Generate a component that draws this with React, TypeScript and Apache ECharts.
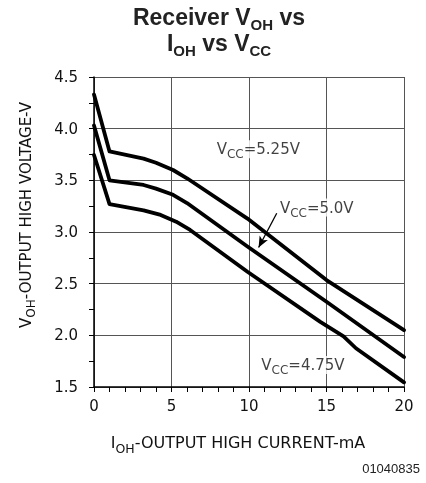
import React, { useEffect, useRef } from "react";
import * as echarts from "echarts";

// I_OH (mA) / V_OH (V)
const vcc525X = [0, 1, 3.2, 4, 5.1, 6, 9.9, 15, 20];
const vcc525Y = [4.33, 3.78, 3.71, 3.67, 3.6, 3.52, 3.13, 2.535, 2.05];

const vcc50X = [0, 1, 3.2, 4, 5.1, 6, 9.9, 15, 20];
const vcc50Y = [4.03, 3.5, 3.455, 3.42, 3.36, 3.28, 2.86, 2.325, 1.79];

const vcc475X = [0, 1, 3.2, 4.3, 5.3, 6.2, 9.9, 14.6, 16.1, 16.9, 20];
const vcc475Y = [3.745, 3.27, 3.21, 3.165, 3.1, 3.02, 2.615, 2.13, 1.99, 1.875, 1.545];

const annotX = [10.6, 14.37, 13.48];
const annotY = [3.8, 3.237, 1.713];
const annotText = ["5.25V", "5.0V", "4.75V"];

const arrowFrom = [11.79, 3.181];
const arrowTo = [10.62, 2.85];

const xTicks = [0, 5, 10, 15, 20];
const yTicks = [1.5, 2.0, 2.5, 3.0, 3.5, 4.0, 4.5];

const FONT = "'DejaVu Sans', 'Liberation Sans', sans-serif";
const TITLE_FONT = "'Liberation Sans', Arial, sans-serif";

const zip = (xs: number[], ys: number[]) => xs.map((x, i) => [x, ys[i]]);

export default function App() {
  const ref = useRef<HTMLDivElement>(null);
  useEffect(() => {
    if (!ref.current) return;
    const chart = echarts.init(ref.current, undefined, { renderer: "svg" });
    const lineSeries = (name: string, data: number[][], extra: any = {}) => ({
      type: "line",
      name,
      data,
      symbol: "none",
      lineStyle: { color: "#000", width: 3.8, join: "round", cap: "round" },
      z: 3,
      ...extra,
    });
    const subRich = {
      m: { fontFamily: FONT, fontSize: 15, color: "#111", lineHeight: 18 },
      s: { fontFamily: FONT, fontSize: 12, color: "#111", lineHeight: 12, padding: [10, 0, 0, 0] },
    };
    const nameRich = {
      m: { fontFamily: FONT, fontSize: 16, color: "#111", lineHeight: 19 },
      s: { fontFamily: FONT, fontSize: 12.5, color: "#111", lineHeight: 12, padding: [11, 0, 0, 0] },
    };
    chart.setOption({
      animation: false,
      title: {
        text: "{a|Receiver V}{s|OH}{a| vs}\n{a|I}{s|OH}{a| vs V}{s|CC}",
        left: 214,
        textAlign: "center",
        top: -1,
        textStyle: {
          rich: {
            a: { fontFamily: TITLE_FONT, fontWeight: "bold", fontSize: 23, color: "#222", lineHeight: 26 },
            s: { fontFamily: TITLE_FONT, fontWeight: "bold", fontSize: 15, color: "#222", lineHeight: 15, padding: [14, 0, 0, 0] },
          },
        },
      },
      grid: { left: 94, right: 22, top: 77, bottom: 96 },
      xAxis: {
        type: "value",
        min: xTicks[0],
        max: xTicks[xTicks.length - 1],
        interval: 5,
        axisLine: { lineStyle: { color: "#000", width: 1.5 } },
        axisTick: { show: true, length: 5, lineStyle: { color: "#000" } },
        minorTick: { show: true, splitNumber: 5, length: 5, lineStyle: { color: "#000" } },
        splitLine: { show: true, lineStyle: { color: "#555", width: 1 } },
        axisLabel: { fontFamily: FONT, fontSize: 15, color: "#111", margin: 11 },
        name: "{m|I}{s|OH}{m|-OUTPUT HIGH CURRENT-mA}",
        nameLocation: "middle",
        nameGap: 46,
        nameTextStyle: { rich: nameRich, padding: [0, 22, 0, 0] },
      },
      yAxis: {
        type: "value",
        min: yTicks[0],
        max: yTicks[yTicks.length - 1],
        interval: 0.5,
        axisLine: { show: true, lineStyle: { color: "#000", width: 1.5 } },
        axisTick: { show: true, length: 5, lineStyle: { color: "#000" } },
        minorTick: { show: true, splitNumber: 2, length: 5, lineStyle: { color: "#000" } },
        splitLine: { show: true, lineStyle: { color: "#555", width: 1 } },
        axisLabel: {
          fontFamily: FONT,
          fontSize: 15,
          color: "#111",
          margin: 16,
          formatter: (v: number) => v.toFixed(1),
        },
        name: "{m|V}{s|OH}{m|-OUTPUT HIGH VOLTAGE-V}",
        nameLocation: "middle",
        nameRotate: 90,
        nameGap: 59,
        nameTextStyle: { rich: subRich, padding: [0, 0, 0, 34] },
      },
      graphic: [
        {
          type: "text",
          right: 6,
          top: 462,
          style: { text: "01040835", font: "13px 'Liberation Sans', Arial, sans-serif", fill: "#222" },
        },
      ],
      series: [
        lineSeries("VCC=5.25V", zip(vcc525X, vcc525Y)),
        lineSeries("VCC=5.0V", zip(vcc50X, vcc50Y), {
          markLine: {
            silent: true,
            symbol: ["none", "arrow"],
            symbolSize: [7, 11],
            label: { show: false },
            lineStyle: { color: "#000", width: 1.3, type: "solid" },
            data: [[{ coord: arrowFrom }, { coord: arrowTo }]],
          },
        }),
        lineSeries("VCC=4.75V", zip(vcc475X, vcc475Y)),
        {
          type: "scatter",
          symbolSize: 0,
          z: 10,
          data: annotX.map((x, i) => ({ value: [x, annotY[i]], name: annotText[i] })),
          label: {
            show: true,
            position: "inside",
            backgroundColor: "#fff",
            padding: [0, 2, 0, 2],
            formatter: (p: any) => `{m|V}{s|CC}{m|=${p.name}}`,
            rich: subRich,
          },
        },
      ],
    });
    return () => chart.dispose();
  }, []);
  return (
    <div
      ref={ref}
      style={{ position: "fixed", left: 0, top: 0, width: 426, height: 483 }}
    />
  );
}
